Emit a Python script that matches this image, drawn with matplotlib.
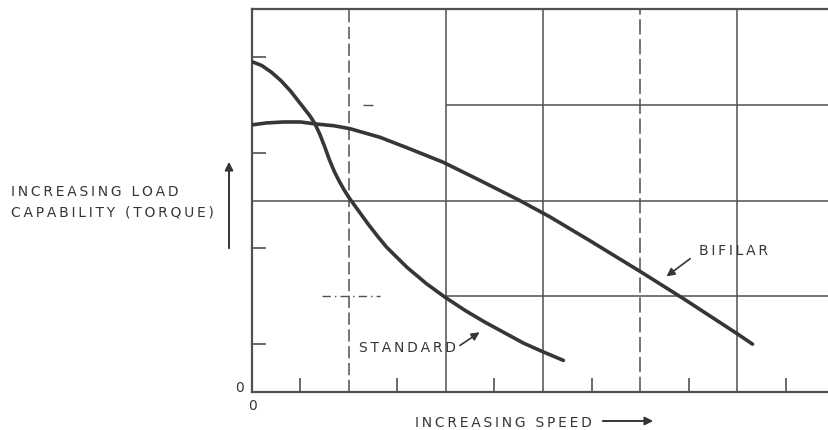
import matplotlib
matplotlib.use("Agg")
import matplotlib.pyplot as plt
from matplotlib.patches import FancyArrowPatch

# curve values (speed units, torque units)
standard_x = [0, 0.1, 0.2, 0.3, 0.4, 0.5, 0.6, 0.65, 0.7, 0.75, 0.8, 0.85,
              0.9, 0.95, 1.0, 1.1, 1.2, 1.3, 1.39, 1.5, 1.6, 1.8, 1.99, 2.2,
              2.4, 2.6, 2.8, 3.0, 3.21]
standard_y = [3.45, 3.41, 3.34, 3.25, 3.14, 3.01, 2.88, 2.80, 2.69, 2.56, 2.42, 2.30,
              2.20, 2.11, 2.03, 1.89, 1.75, 1.62, 1.51, 1.40, 1.30, 1.13, 0.99, 0.85,
              0.73, 0.62, 0.51, 0.42, 0.33]

bifilar_x = [0, 0.15, 0.32, 0.5, 0.65, 0.85, 1.01, 1.32, 1.6, 1.97, 2.35,
             2.76, 3.07, 3.5, 4.0, 4.44, 5.0, 5.16]
bifilar_y = [2.79, 2.81, 2.82, 2.82, 2.80, 2.78, 2.75, 2.66, 2.55, 2.40, 2.21,
             2.00, 1.83, 1.57, 1.26, 0.98, 0.61, 0.50]

tick_pos = [0.5, 1.5, 2.5, 3.5, 4.5, 5.5]
ytick_pos = [0.5, 1.5, 2.5, 3.5]

ink = "#363636"
grid_ink = "#505050"


def spaced(s):
    # the drawing's lettering is wide, open it up with thin spaces
    return "\u2009".join(s)


fig = plt.figure(figsize=(8.29, 4.31), dpi=100)
fig.patch.set_facecolor("white")
ax = fig.add_axes([252 / 829, 38 / 431, 577 / 829, 383 / 431])
ax.set_xlim(0, 577 / 97)
ax.set_ylim(0, 4)

# grid, drawn as on the sheet
for gx, ls in [(1, (0, (8, 3))), (2, "-"), (3, "-"), (4, (0, (10, 3))), (5, "-")]:
    ax.axvline(gx, color=grid_ink, lw=1.1, ls=ls, zorder=1)
ax.hlines(2, 0, 6, color=grid_ink, lw=1.1, zorder=1)
ax.hlines([1, 3], 2, 6, color=grid_ink, lw=1.1, zorder=1)
ax.hlines(1, 0.72, 1.32, color=grid_ink, lw=1.0, ls=(0, (6, 3, 1, 3)), zorder=1)
ax.hlines(3, 1.14, 1.25, color=grid_ink, lw=1.0, zorder=1)

ax.plot(standard_x, standard_y, color=ink, lw=2.6, solid_capstyle="round",
        solid_joinstyle="round", zorder=3)
ax.plot(bifilar_x, bifilar_y, color=ink, lw=2.6, solid_capstyle="round",
        solid_joinstyle="round", zorder=3)

ax.spines["right"].set_visible(False)
for side in ["left", "bottom", "top"]:
    ax.spines[side].set_color(grid_ink)
    ax.spines[side].set_linewidth(1.6)

ax.set_xticks(tick_pos)
ax.set_yticks(ytick_pos)
ax.tick_params(direction="in", length=10, width=1.2, color=grid_ink,
               labelbottom=False, labelleft=False)

txt = dict(color=ink, fontsize=10, family="DejaVu Sans")

ax.text(1.60, 0.47, spaced("STANDARD"), ha="center", va="center", **txt)
ax.annotate("", xy=(2.37, 0.64), xytext=(2.12, 0.47),
            arrowprops=dict(arrowstyle="-|>", color=ink, lw=1.2, mutation_scale=12))
ax.text(4.96, 1.48, spaced("BIFILAR"), ha="center", va="center", **txt)
ax.annotate("", xy=(4.25, 1.19), xytext=(4.54, 1.41),
            arrowprops=dict(arrowstyle="-|>", color=ink, lw=1.2, mutation_scale=12))

fig.text(11 / 829, 1 - 192 / 431, spaced("INCREASING LOAD"), ha="left", va="center", **txt)
fig.text(11 / 829, 1 - 213 / 431, spaced("CAPABILITY (TORQUE)"), ha="left", va="center", **txt)
fig.add_artist(FancyArrowPatch(
    (229 / 829, 1 - 252 / 431), (229 / 829, 1 - 160 / 431),
    transform=fig.transFigure, arrowstyle="-|>", color=ink, lw=1.4, mutation_scale=12))

fig.text(240 / 829, 1 - 388 / 431, "0", ha="center", va="center", **txt)
fig.text(253 / 829, 1 - 406 / 431, "0", ha="center", va="center", **txt)
fig.text(415 / 829, 1 - 423 / 431, spaced("INCREASING SPEED"), ha="left", va="center", **txt)
fig.add_artist(FancyArrowPatch(
    (600 / 829, 1 - 422 / 431), (656 / 829, 1 - 422 / 431),
    transform=fig.transFigure, arrowstyle="-|>", color=ink, lw=1.4, mutation_scale=12))

fig.savefig("out.png", dpi=100, facecolor="white")
